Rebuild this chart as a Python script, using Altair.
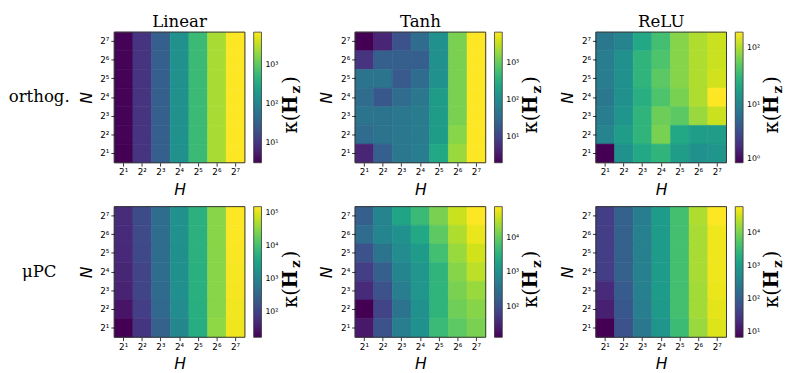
import altair as alt
import pandas as pd

H_labels = ["2¹", "2²", "2³", "2⁴", "2⁵", "2⁶", "2⁷"]
N_labels = ["2⁷", "2⁶", "2⁵", "2⁴", "2³", "2²", "2¹"]  # top to bottom

col_titles = ["Linear", "Tanh", "ReLU"]
row_titles = ["orthog.", "μPC"]
kappa_parts = ["κ(", "H", "z", ")"]

# condition numbers; rows = N (2^7 top .. 2^1 bottom), cols = H (2^1 .. 2^7)
orth_linear = [
    [3.3, 10, 32, 150, 600, 2600, 7000],
    [3.3, 10, 32, 150, 600, 2600, 7000],
    [3.3, 10, 32, 150, 600, 2600, 7000],
    [3.3, 10, 32, 150, 600, 2600, 7000],
    [3.3, 10, 32, 150, 600, 2600, 7000],
    [3.3, 10, 32, 150, 600, 2600, 7000],
    [3.2, 10, 32, 150, 600, 2600, 7000],
]
orth_tanh = [
    [2.1, 4.7, 16, 35, 120, 1350, 6800],
    [7, 23, 23, 23, 120, 1350, 6800],
    [45, 45, 20, 35, 120, 1350, 6800],
    [35, 19, 35, 52, 180, 1350, 6800],
    [45, 45, 52, 60, 180, 1350, 6800],
    [35, 45, 52, 60, 180, 1600, 6800],
    [4.7, 23, 52, 62, 270, 2000, 6800],
]
orth_relu = [
    [8, 10.5, 23, 39, 72, 100, 123],
    [9, 13.6, 30, 43, 72, 100, 123],
    [9, 13.6, 30, 50, 72, 100, 130],
    [8, 13.6, 26, 43, 65, 100, 186],
    [9, 15, 30, 58, 50, 85, 123],
    [10.5, 18, 30, 65, 23, 18, 18],
    [1.0, 13.6, 23, 30, 18, 13.6, 15],
]
mupc_linear = [
    [52, 130, 430, 1650, 5900, 31000, 158000],
    [50, 125, 430, 1650, 5900, 31000, 155000],
    [47, 120, 430, 1600, 5800, 31000, 150000],
    [44, 108, 430, 1600, 5600, 31000, 145000],
    [40, 105, 400, 1550, 5500, 31000, 140000],
    [27, 89, 355, 1380, 5400, 31000, 132000],
    [17, 68, 270, 1150, 5000, 34000, 130000],
]
mupc_tanh = [
    [180, 680, 2100, 4900, 14000, 40000, 79000],
    [280, 680, 1050, 2450, 9100, 28000, 61000],
    [118, 360, 870, 1600, 5900, 21000, 44000],
    [64, 180, 680, 1250, 3800, 16500, 33000],
    [38, 118, 520, 1250, 3800, 14000, 21000],
    [13.5, 76, 360, 1050, 3800, 11800, 16500],
    [23, 118, 520, 1050, 4900, 9100, 14000],
]
mupc_relu = [
    [36, 110, 320, 1050, 4200, 21000, 63000],
    [36, 110, 350, 1050, 4200, 19500, 52000],
    [36, 110, 350, 1050, 4200, 19500, 52000],
    [36, 110, 350, 1050, 4200, 19500, 52000],
    [21, 91, 350, 1050, 4200, 18000, 48000],
    [15, 83, 320, 960, 4200, 18000, 44000],
    [7, 69, 270, 800, 3500, 16000, 40000],
]

ticks_orth_linear = [10, 100, 1000]
ticks_orth_tanh = [10, 100, 1000]
ticks_orth_relu = [1, 10, 100]
ticks_mupc_linear = [100, 1000, 10000, 100000]
ticks_mupc_tanh = [100, 1000, 10000]
ticks_mupc_relu = [10, 100, 1000, 10000]

W = 134
SERIF = "DejaVu Serif"
SANS = "DejaVu Sans"
SUP = "['⁰','¹','²','³','⁴','⁵','⁶']"


def txt(s, x, y, size, weight="normal", align="left", opacity=1.0):
    return alt.Chart(pd.DataFrame({"t": [s]})).mark_text(
        angle=270, font=SERIF, fontSize=size, fontWeight=weight, align=align,
        baseline="middle", color="#000", opacity=opacity
    ).encode(text="t:N", x=alt.value(x), y=alt.value(y))


def panel(grid, ticks, title=None, row_label=None, placeholder=None):
    recs = []
    for i, n in enumerate(N_labels):
        for j, h in enumerate(H_labels):
            recs.append({"N": n, "H": h, "k": grid[i][j], "ks": grid[i][j]})
    df = pd.DataFrame(recs)
    lo, hi = float(df["k"].min()), float(df["k"].max())

    heat = alt.Chart(df).mark_rect(strokeWidth=0.6).encode(
        x=alt.X("H:N", sort=H_labels, title="H",
                scale=alt.Scale(paddingInner=0, paddingOuter=0),
                axis=alt.Axis(labelAngle=0, labelFont=SANS, labelFontSize=9, labelColor="#000",
                              tickSize=3.5, tickColor="#000", tickWidth=0.8, domain=False,
                              labelPadding=2, titlePadding=5, titleFont=SANS,
                              titleFontStyle="italic", titleFontWeight="normal",
                              titleFontSize=16, titleColor="#000")),
        y=alt.Y("N:N", sort=N_labels, title="N",
                scale=alt.Scale(paddingInner=0, paddingOuter=0),
                axis=alt.Axis(labelFont=SANS, labelFontSize=9, labelColor="#000",
                              tickSize=3.5, tickColor="#000", tickWidth=0.8, domain=False,
                              labelPadding=2, titlePadding=6, titleFont=SANS,
                              titleFontStyle="italic", titleFontWeight="normal",
                              titleFontSize=16, titleColor="#000")),
        color=alt.Color("k:Q",
                        scale=alt.Scale(type="log", scheme="viridis", domain=[lo, hi]),
                        legend=alt.Legend(orient="none", legendX=W + 9, legendY=0,
                                          type="gradient",
                                          direction="vertical", gradientLength=W,
                                          gradientThickness=8, title=None, values=ticks,
                                          labelExpr="'10' + " + SUP + "[round(log(datum.value)/LN10)]",
                                          labelFont=SANS, labelFontSize=8, labelColor="#000",
                                          labelOffset=4, gradientStrokeColor="#333",
                                          gradientStrokeWidth=0.8, padding=0)),
        stroke=alt.Stroke("ks:Q",
                          scale=alt.Scale(type="log", scheme="viridis",
                                          domain=[lo * 0.99999, hi * 1.00001]),
                          legend=None),
    )
    frame = alt.Chart(pd.DataFrame({"a": [0]})).mark_rect(
        fillOpacity=0, stroke="#333", strokeWidth=1
    ).encode(x=alt.value(0), x2=alt.value(W), y=alt.value(0), y2=alt.value(W))
    layers = [heat, frame,
              txt(kappa_parts[0], 181, 104, 20),
              txt(kappa_parts[1], 181, 84, 20, weight="bold"),
              txt(kappa_parts[2], 187, 63, 14, weight="bold"),
              txt(kappa_parts[3], 181, 53, 20)]
    if row_label is not None:
        layers.append(alt.Chart(pd.DataFrame({"t": [row_label]})).mark_text(
            font=SERIF, fontSize=17, align="center", baseline="middle", color="#000"
        ).encode(text="t:N", x=alt.value(-77), y=alt.value(67)))
    if placeholder is not None:
        layers.append(alt.Chart(pd.DataFrame({"t": [placeholder]})).mark_text(
            font=SERIF, fontSize=17, align="center", baseline="middle", opacity=0
        ).encode(text="t:N", x=alt.value(-77), y=alt.value(67)))
    ch = alt.layer(*layers).properties(width=W, height=W)
    if title is not None:
        ch = ch.properties(title=alt.Title(title, font=SERIF, fontSize=17, fontWeight="normal",
                                           color="#000", frame="group", anchor="middle", offset=1))
    return ch


row1 = alt.hconcat(
    panel(orth_linear, ticks_orth_linear, col_titles[0], row_titles[0]),
    panel(orth_tanh, ticks_orth_tanh, col_titles[1]),
    panel(orth_relu, ticks_orth_relu, col_titles[2]),
    spacing=16,
).resolve_scale(color="independent", stroke="independent").resolve_legend(
    color="independent", stroke="independent")
row2 = alt.hconcat(
    panel(mupc_linear, ticks_mupc_linear, None, row_titles[1], placeholder=row_titles[0]),
    panel(mupc_tanh, ticks_mupc_tanh),
    panel(mupc_relu, ticks_mupc_relu),
    spacing=16,
).resolve_scale(color="independent", stroke="independent").resolve_legend(
    color="independent", stroke="independent")

chart = alt.vconcat(row1, row2, spacing=8).resolve_scale(
    color="independent", stroke="independent").resolve_legend(
    color="independent", stroke="independent").properties(
    padding=0).configure_view(strokeWidth=0)

chart.save("out.html", embed_options={"renderer": "svg", "actions": False})
